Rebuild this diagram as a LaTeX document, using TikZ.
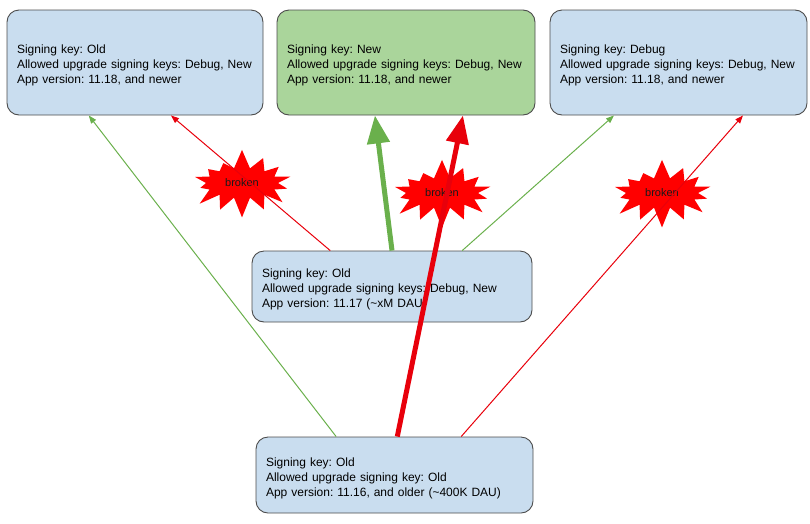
\documentclass[tikz,border=0pt]{standalone}
\usepackage{fontspec}
\setmainfont{Liberation Sans}
\frenchspacing
\usetikzlibrary{arrows.meta,shapes.symbols,calc}

\definecolor{boxblue}{HTML}{C9DDEF}
\definecolor{boxgreen}{HTML}{AAD59B}
\definecolor{okgreen}{HTML}{6AB04C}
\definecolor{badred}{HTML}{E8000B}

\tikzset{
	keybox/.style={draw=black!70, line width=0.9pt, rounded corners=12pt, fill=boxblue,
		align=left, inner xsep=10pt, font=\fontsize{12}{15}\selectfont,
		execute at begin node={\rule{0pt}{15pt}}},
	burst/.style={starburst, fill=red, draw=none, starburst points=14,
		starburst point height=20pt, random starburst=7, minimum width=112pt,
		minimum height=70pt, inner sep=1pt, text=black!90, font=\fontsize{11}{12}\selectfont},
	okline/.style={draw=okgreen, line width=1pt, -{Triangle[length=8pt,width=6pt]}},
	badline/.style={draw=badred, line width=1pt, -{Triangle[length=8pt,width=6pt]}},
	bigok/.style={draw=okgreen, line width=5pt, -{Triangle[length=28pt,width=22pt]}},
	bigbad/.style={draw=badred, line width=5pt, -{Triangle[length=28pt,width=22pt]}},
}

\begin{document}
\begin{tikzpicture}[x=1pt, y=-1pt]
	\useasboundingbox (0,0) rectangle (810,523);
	% target builds
	\node[keybox, text width=236pt, minimum height=105pt] (old) at (135,62.5)
		{Signing key: Old\\Allowed upgrade signing keys: Debug, New\\App version: 11.18, and newer};
	\node[keybox, fill=boxgreen, text width=238pt, minimum height=105pt] (new) at (406,62.5)
		{Signing key: New\\Allowed upgrade signing keys: Debug, New\\App version: 11.18, and newer};
	\node[keybox, text width=237pt, minimum height=105pt] (dbg) at (678.5,62.5)
		{Signing key: Debug\\Allowed upgrade signing keys: Debug, New\\App version: 11.18, and newer};
	% installed builds
	\node[keybox, text width=260pt, minimum height=71pt] (mid) at (392,286.5)
		{Signing key: Old\\Allowed upgrade signing keys: Debug, New\\App version: 11.17 (\textasciitilde xM DAU)};
	\node[keybox, text width=257pt, minimum height=76pt] (bot) at (394.5,475)
		{Signing key: Old\\Allowed upgrade signing key: Old\\App version: 11.16, and older (\textasciitilde 400K DAU)};
	% broken upgrades
	\node[burst] (bk1) at (242,183) {broken};
	\node[burst] (bk2) at (442,193) {broken};
	\node[burst] (bk3) at (662,193) {broken};
	% upgrade paths
	\draw[okline] ($(bot.north west)!0.29!(bot.north east)$) -- ($(old.south west)!0.32!(old.south east)$);
	\draw[bigbad] ($(bot.north west)!0.51!(bot.north east)$) -- ($(new.south west)!0.72!(new.south east)$);
	\draw[badline] ($(bot.north west)!0.74!(bot.north east)$) -- ($(dbg.south west)!0.75!(dbg.south east)$);
	\draw[badline] ($(mid.north west)!0.28!(mid.north east)$) -- ($(old.south west)!0.64!(old.south east)$);
	\draw[bigok] ($(mid.north west)!0.5!(mid.north east)$) -- ($(new.south west)!0.38!(new.south east)$);
	\draw[okline] ($(mid.north west)!0.75!(mid.north east)$) -- ($(dbg.south west)!0.25!(dbg.south east)$);
\end{tikzpicture}
\end{document}
